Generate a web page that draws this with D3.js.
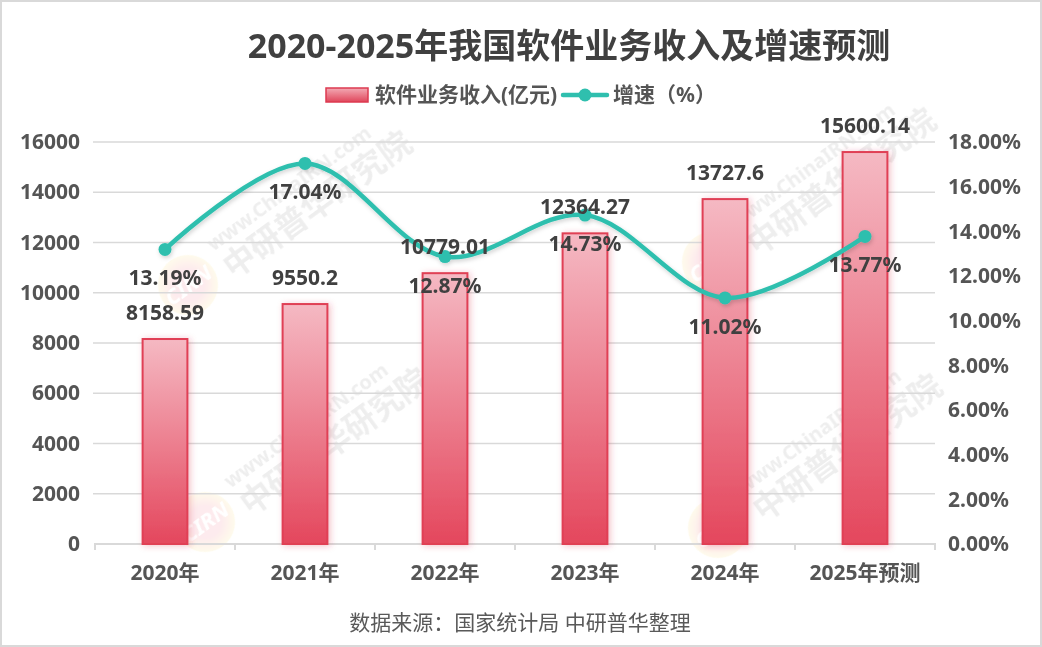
<!DOCTYPE html>
<html>
<head>
<meta charset="utf-8">
<script src="https://cdn.jsdelivr.net/npm/d3@7"></script>
<style>
  html, body { margin: 0; padding: 0; background: #fff; }
  svg text { font-family: "Noto Sans", "Noto Sans CJK SC", sans-serif; }
</style>
</head>
<body>
<script>
// data
const years = ["2020年", "2021年", "2022年", "2023年", "2024年", "2025年预测"];
const revenue = [8158.59, 9550.2, 10779.01, 12364.27, 13727.6, 15600.14];
const growth = [13.19, 17.04, 12.87, 14.73, 11.02, 13.77];
const leftTicks = [0, 2000, 4000, 6000, 8000, 10000, 12000, 14000, 16000];
const rightTicks = [0, 2, 4, 6, 8, 10, 12, 14, 16, 18];

width = 1042;
height = 647;
plot = { left: 95, right: 935, top: 142, bottom: 544 };
textColor = "#404040";
axisColor = "#555";
gridColor = "#d9d9d9";
lineColor = "#2fbfae";

const svg = d3
  .select("body")
  .append("svg")
  .attr("width", width)
  .attr("height", height)
  .attr("viewBox", [0, 0, width, height]);

const defs = svg.append("defs");

const barGrad = defs
  .append("linearGradient")
  .attr("id", "barGrad")
  .attr("x1", 0).attr("y1", 0).attr("x2", 0).attr("y2", 1);
barGrad.append("stop").attr("offset", "0%").attr("stop-color", "#f5b9c3");
barGrad.append("stop").attr("offset", "100%").attr("stop-color", "#e4475d");

const legGrad = defs
  .append("linearGradient")
  .attr("id", "legGrad")
  .attr("x1", 0).attr("y1", 0).attr("x2", 0).attr("y2", 1);
legGrad.append("stop").attr("offset", "0%").attr("stop-color", "#f3aab4");
legGrad.append("stop").attr("offset", "100%").attr("stop-color", "#e0465b");

const badgeGrad = defs.append("radialGradient").attr("id", "badgeGrad");
badgeGrad.append("stop").attr("offset", "55%").attr("stop-color", "#e8394f");
badgeGrad.append("stop").attr("offset", "100%").attr("stop-color", "#f7d23a");

const barShadow = defs.append("filter").attr("id", "barShadow")
  .attr("x", "-40%").attr("y", "-10%").attr("width", "180%").attr("height", "120%");
barShadow.append("feDropShadow")
  .attr("dx", 2).attr("dy", 1).attr("stdDeviation", 3)
  .attr("flood-color", "#d4324a").attr("flood-opacity", 0.3);

const lineShadow = defs.append("filter").attr("id", "lineShadow")
  .attr("x", "-10%").attr("y", "-30%").attr("width", "120%").attr("height", "160%");
lineShadow.append("feDropShadow")
  .attr("dx", 1).attr("dy", 2).attr("stdDeviation", 2)
  .attr("flood-color", "#000").attr("flood-opacity", 0.18);

// frame
svg.append("rect")
  .attr("x", 1).attr("y", 1)
  .attr("width", width - 2).attr("height", height - 2)
  .attr("fill", "#fff")
  .attr("stroke", "#d9d9d9")
  .attr("stroke-width", 2);

const x = d3.scaleBand().domain(years).range([plot.left, plot.right]);
const yL = d3.scaleLinear().domain([0, 16000]).range([plot.bottom, plot.top]);
const yR = d3.scaleLinear().domain([0, 18]).range([plot.bottom, plot.top]);
const barW = x.bandwidth() * 0.32;
const cx = (d) => x(d) + x.bandwidth() / 2;

// watermarks, faint
const marks = [[188, 285], [205, 522], [712, 262], [718, 528]];
const wm = svg.append("g").attr("opacity", 0.1);
marks.forEach(function (m) {
  const g = wm.append("g").attr("transform", `translate(${m[0]},${m[1]}) rotate(-36)`);
  g.append("circle").attr("r", 30).attr("fill", "url(#badgeGrad)");
  g.append("text").attr("x", 0).attr("y", 8).attr("text-anchor", "middle")
    .attr("font-size", 22).attr("font-weight", 700).attr("font-style", "italic")
    .attr("fill", "#fff").text("CIRN");
  g.append("text").attr("x", 40).attr("y", -12)
    .attr("font-size", 20).attr("font-weight", 700).attr("fill", "#555")
    .text("www.ChinaIRN.com");
  g.append("text").attr("x", 40).attr("y", 22)
    .attr("font-size", 32).attr("font-weight", 700).attr("fill", "#555")
    .text("中研普华研究院");
});

// gridlines
svg.append("g")
  .selectAll("line")
  .data(leftTicks.slice(1))
  .join("line")
  .attr("x1", plot.left - 2).attr("x2", plot.right)
  .attr("y1", (d) => yL(d)).attr("y2", (d) => yL(d))
  .attr("stroke", gridColor).attr("stroke-width", 1.5);

// x axis
const xAxis = d3.axisBottom(x).tickSize(0).tickPadding(0).tickFormat("");
svg.append("g")
  .attr("transform", `translate(0,${plot.bottom})`)
  .call(xAxis)
  .call((g) => g.select(".domain").attr("stroke", gridColor).attr("stroke-width", 2)
    .attr("d", `M${plot.left},6V0H${plot.right}V6`));
svg.append("g")
  .selectAll("line")
  .data(years.slice(1))
  .join("line")
  .attr("x1", (d) => x(d)).attr("x2", (d) => x(d))
  .attr("y1", plot.bottom).attr("y2", plot.bottom + 6)
  .attr("stroke", gridColor).attr("stroke-width", 2);
svg.append("g")
  .selectAll("text")
  .data(years)
  .join("text")
  .attr("x", cx)
  .attr("y", plot.bottom + 36)
  .attr("text-anchor", "middle")
  .attr("font-size", 21).attr("font-weight", 700)
  .attr("fill", axisColor)
  .text((d) => d);

// left axis labels
const yAxisL = d3.axisLeft(yL).tickValues(leftTicks).tickSize(0).tickPadding(15)
  .tickFormat(d3.format("d"));
svg.append("g")
  .attr("transform", `translate(${plot.left},0)`)
  .call(yAxisL)
  .call((g) => g.select(".domain").remove())
  .call((g) => g.selectAll("text")
    .attr("font-size", 21).attr("font-weight", 700)
    .attr("fill", axisColor));

// right axis labels
const yAxisR = d3.axisRight(yR).tickValues(rightTicks).tickSize(0).tickPadding(13)
  .tickFormat((d) => d.toFixed(2) + "%");
svg.append("g")
  .attr("transform", `translate(${plot.right},0)`)
  .call(yAxisR)
  .call((g) => g.select(".domain").remove())
  .call((g) => g.selectAll("text")
    .attr("font-size", 21).attr("font-weight", 700)
    .attr("fill", axisColor));

// bars
svg.append("g")
  .selectAll("rect")
  .data(years)
  .join("rect")
  .attr("x", (d) => cx(d) - barW / 2)
  .attr("y", (d, i) => yL(revenue[i]))
  .attr("width", barW)
  .attr("height", (d, i) => plot.bottom - yL(revenue[i]))
  .attr("fill", "url(#barGrad)")
  .attr("stroke", "#e03f55")
  .attr("stroke-width", 2)
  .attr("filter", "url(#barShadow)");

// growth line
const line = d3
  .line()
  .x((d, i) => cx(years[i]))
  .y((d) => yR(d))
  .curve(d3.curveCatmullRom.alpha(0.5));
const lineG = svg.append("g").attr("filter", "url(#lineShadow)");
lineG.append("path")
  .datum(growth)
  .attr("d", line)
  .attr("fill", "none")
  .attr("stroke", lineColor)
  .attr("stroke-width", 4.5)
  .attr("stroke-linecap", "round");
lineG.selectAll("circle")
  .data(growth)
  .join("circle")
  .attr("cx", (d, i) => cx(years[i]))
  .attr("cy", (d) => yR(d))
  .attr("r", 6.5)
  .attr("fill", lineColor);

// data labels
svg.append("g")
  .selectAll("text")
  .data(revenue)
  .join("text")
  .attr("x", (d, i) => cx(years[i]))
  .attr("y", (d) => yL(d) - 19)
  .attr("text-anchor", "middle")
  .attr("font-size", 21).attr("font-weight", 700)
  .attr("fill", textColor)
  .text((d) => String(d));
svg.append("g")
  .selectAll("text")
  .data(growth)
  .join("text")
  .attr("x", (d, i) => cx(years[i]))
  .attr("y", (d) => yR(d) + 36)
  .attr("text-anchor", "middle")
  .attr("font-size", 21).attr("font-weight", 700)
  .attr("fill", textColor)
  .text((d) => d.toFixed(2) + "%");

// title
svg.append("text")
  .attr("x", 569).attr("y", 58)
  .attr("text-anchor", "middle")
  .attr("font-size", 34).attr("font-weight", 700)
  .attr("fill", textColor)
  .text("2020-2025年我国软件业务收入及增速预测");

// legend
const leg = svg.append("g");
leg.append("rect")
  .attr("x", 326).attr("y", 88).attr("width", 42).attr("height", 14)
  .attr("fill", "url(#legGrad)").attr("stroke", "#dd3a50").attr("stroke-width", 1.5);
leg.append("text")
  .attr("x", 375).attr("y", 102)
  .attr("font-size", 21).attr("font-weight", 700).attr("fill", axisColor)
  .text("软件业务收入(亿元)");
leg.append("line")
  .attr("x1", 563).attr("x2", 607).attr("y1", 95).attr("y2", 95)
  .attr("stroke", lineColor).attr("stroke-width", 4.5).attr("stroke-linecap", "round");
leg.append("circle").attr("cx", 585).attr("cy", 95).attr("r", 6.5).attr("fill", lineColor);
leg.append("text")
  .attr("x", 613).attr("y", 102)
  .attr("font-size", 21).attr("font-weight", 700).attr("fill", axisColor)
  .text("增速（%）");

// source
svg.append("text")
  .attr("x", 520).attr("y", 630)
  .attr("text-anchor", "middle")
  .attr("font-size", 21).attr("fill", "#595959")
  .text("数据来源：国家统计局 中研普华整理");
</script>
</body>
</html>
